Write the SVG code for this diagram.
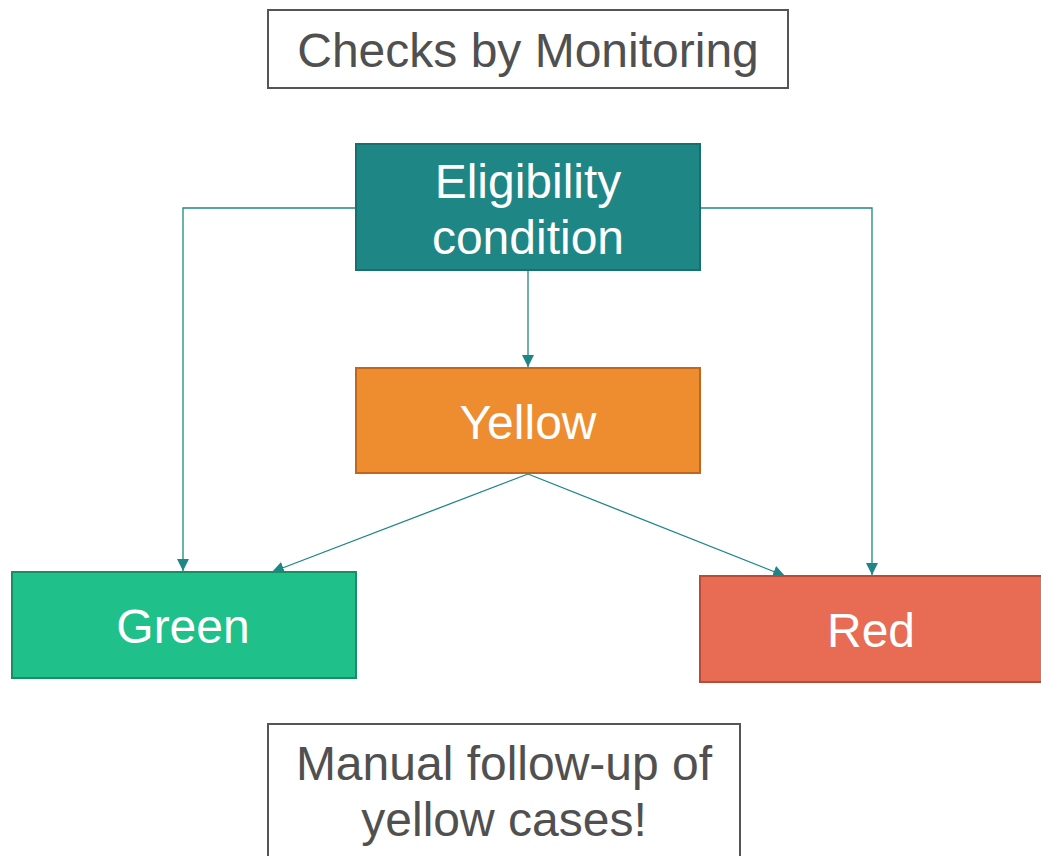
<svg xmlns="http://www.w3.org/2000/svg" width="1041" height="856" viewBox="0 0 1041 856">
<style>
.t{font-family:"Liberation Sans",Arial,sans-serif;font-size:48px;text-anchor:middle}
.w{fill:#ffffff}
.g{fill:#505050}
.c{fill:none;stroke:#1f8686;stroke-width:1.3}
.box{fill:#ffffff;stroke:#555555;stroke-width:2}
</style>
<defs>
<marker id="ah" viewBox="0 0 12 12" refX="12" refY="6" markerWidth="12" markerHeight="12" markerUnits="userSpaceOnUse" orient="auto">
<path d="M0,0 L12,6 L0,12 Z" fill="#1f8686"/>
</marker>
</defs>
<rect width="1041" height="856" fill="#ffffff"/>
<g id="title">
<rect class="box" x="268" y="10" width="520" height="78"/>
<text class="t g" x="528" y="67">Checks by Monitoring</text>
</g>
<g id="connectors">
<polyline class="c" points="356,208 183,208 183,571" marker-end="url(#ah)"/>
<polyline class="c" points="700,208 872,208 872,575" marker-end="url(#ah)"/>
<line class="c" x1="528" y1="270" x2="528" y2="367" marker-end="url(#ah)"/>
<line class="c" x1="528" y1="474" x2="272" y2="572" marker-end="url(#ah)"/>
<line class="c" x1="528" y1="474" x2="785" y2="576" marker-end="url(#ah)"/>
</g>
<g id="eligibility">
<rect x="356" y="144" width="344" height="126" fill="#1f8686" stroke="#17706f" stroke-width="2"/>
<text class="t w" x="528" y="198">Eligibility</text>
<text class="t w" x="528" y="254">condition</text>
</g>
<g id="yellow">
<rect x="356" y="368" width="344" height="105" fill="#ed8d30" stroke="#c0661e" stroke-width="2"/>
<text class="t w" x="528" y="439">Yellow</text>
</g>
<g id="green">
<rect x="12" y="572" width="344" height="106" fill="#1fc08a" stroke="#168e66" stroke-width="2"/>
<text class="t w" x="183" y="643">Green</text>
</g>
<g id="red">
<rect x="700" y="576" width="344" height="106" fill="#e86b54" stroke="#b54c3a" stroke-width="2"/>
<text class="t w" x="871" y="647">Red</text>
</g>
<g id="note">
<rect class="box" x="268" y="724" width="472" height="140"/>
<text class="t g" x="504" y="780">Manual follow-up of</text>
<text class="t g" x="504" y="836">yellow cases!</text>
</g>
</svg>
